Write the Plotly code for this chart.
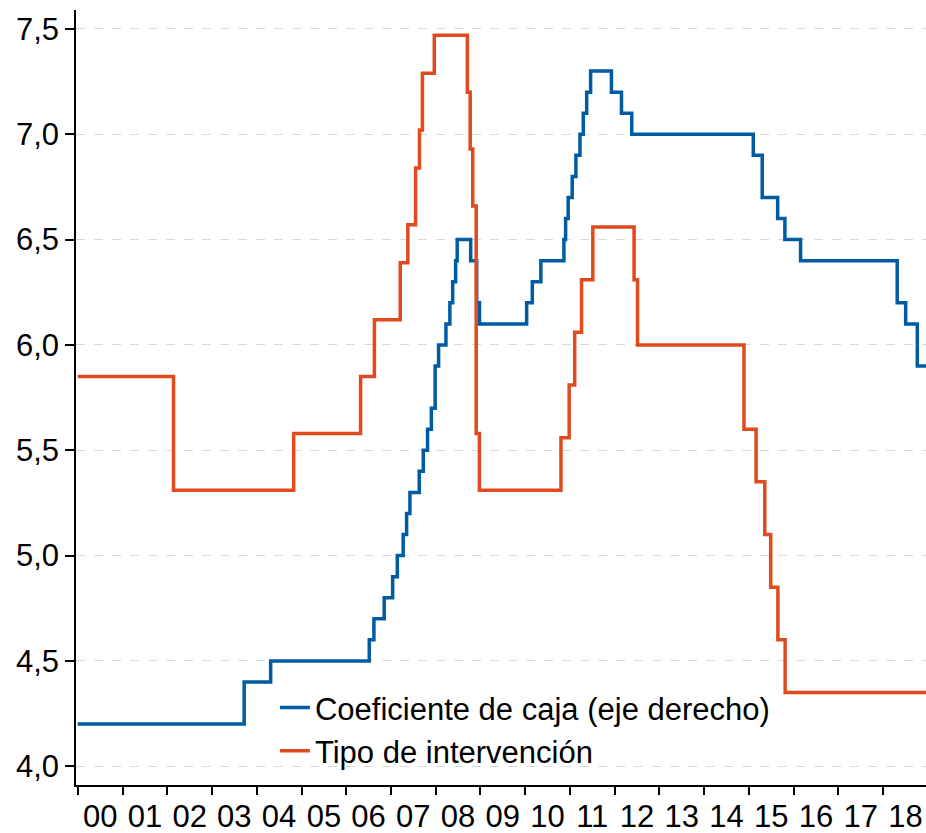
import plotly.graph_objects as go

# Coeficiente de caja: step-change dates and levels
caja_fechas = [
    "2000-01-01", "2003-09-21", "2004-04-24", "2006-07-08", "2006-08-15",
    "2006-11-07", "2007-01-15", "2007-02-22", "2007-04-11", "2007-05-09",
    "2007-06-05", "2007-08-20", "2007-09-22", "2007-10-27", "2007-11-27",
    "2007-12-28", "2008-01-25", "2008-03-25", "2008-04-26", "2008-05-19",
    "2008-06-12", "2008-06-25", "2008-10-13", "2008-12-01", "2008-12-24",
    "2010-01-13", "2010-02-28", "2010-05-09", "2010-11-13", "2010-11-27",
    "2010-12-18", "2011-01-20", "2011-02-19", "2011-03-24", "2011-04-20",
    "2011-05-18", "2011-06-19", "2011-12-06", "2012-02-26", "2012-05-20",
    "2015-02-06", "2015-04-20", "2015-08-24", "2015-10-22", "2016-02-27",
    "2018-04-26", "2018-07-04", "2018-10-07", "2018-12-31",
]
caja_valores = [
    4.2, 4.4, 4.5, 4.6, 4.7,
    4.8, 4.9, 5.0, 5.1, 5.2,
    5.3, 5.4, 5.5, 5.6, 5.7,
    5.9, 6.0, 6.1, 6.2, 6.3,
    6.4, 6.5, 6.4, 6.2, 6.1,
    6.2, 6.3, 6.4, 6.5, 6.6,
    6.7, 6.8, 6.9, 7.0, 7.1,
    7.2, 7.3, 7.2, 7.1, 7.0,
    6.9, 6.7, 6.6, 6.5, 6.4,
    6.2, 6.1, 5.9, 5.9,
]

# Tipo de intervención: step-change dates and levels
tipo_fechas = [
    "2000-01-01", "2002-02-21", "2004-10-29", "2006-04-28", "2006-08-19",
    "2007-03-18", "2007-05-19", "2007-07-21", "2007-08-22", "2007-09-15",
    "2007-12-21", "2008-09-16", "2008-10-09", "2008-10-30", "2008-11-27",
    "2008-12-23", "2010-10-20", "2010-12-26", "2011-02-09", "2011-04-06",
    "2011-07-07", "2012-06-08", "2012-07-06", "2014-11-22", "2015-03-01",
    "2015-05-11", "2015-06-28", "2015-08-26", "2015-10-24", "2018-12-31",
]
tipo_valores = [
    5.85, 5.31, 5.58, 5.85, 6.12,
    6.39, 6.57, 6.84, 7.02, 7.29,
    7.47, 7.20, 6.93, 6.66, 5.58,
    5.31, 5.56, 5.81, 6.06, 6.31,
    6.56, 6.31, 6.00, 5.60, 5.35,
    5.10, 4.85, 4.60, 4.35, 4.35,
]

y_ticks = [4.0, 4.5, 5.0, 5.5, 6.0, 6.5, 7.0, 7.5]

AZUL = "#005ca2"
ROJO = "#df4a1f"
FONT = "Liberation Sans, Arial, sans-serif"
FS = 31

fig = go.Figure()
fig.add_trace(go.Scatter(
    x=caja_fechas, y=caja_valores, mode="lines",
    line=dict(color=AZUL, width=3.5, shape="hv"),
    name="Coeficiente de caja (eje derecho)",
))
fig.add_trace(go.Scatter(
    x=tipo_fechas, y=tipo_valores, mode="lines",
    line=dict(color=ROJO, width=3.5, shape="hv"),
    name="Tipo de intervención",
))

fig.update_layout(
    width=926, height=833,
    margin=dict(l=76, r=0, t=10, b=48),
    paper_bgcolor="white", plot_bgcolor="white",
    separators=",.",
    font=dict(family=FONT, size=FS, color="black"),
    showlegend=True,
    legend=dict(
        x=0.234, y=0.1345, xanchor="left", yanchor="top",
        bgcolor="rgba(0,0,0,0)", borderwidth=0,
        font=dict(family=FONT, size=FS, color="black"),
        tracegroupgap=0,
    ),
)

fig.update_xaxes(
    type="date",
    range=["1999-12-18", "2018-12-17"],
    tick0="2000-01-01", dtick="M12",
    tickformat="%y", ticklabelmode="period",
    ticks="outside", ticklen=8, tickwidth=1.5, tickcolor="black",
    ticklabelstandoff=-5,
    showline=True, linecolor="black", linewidth=1.5,
    showgrid=False, zeroline=False, automargin=False,
    tickfont=dict(family=FONT, size=FS, color="black"),
)

fig.update_yaxes(
    range=[3.911, 7.59],
    tickvals=y_ticks, tickformat=".1f",
    ticks="outside", ticklen=9, tickwidth=1.5, tickcolor="black",
    showline=True, linecolor="black", linewidth=1.5,
    showgrid=True, gridcolor="#d9d9d9", gridwidth=1, griddash="dash",
    zeroline=False, automargin=False,
    tickfont=dict(family=FONT, size=FS, color="black"),
)

fig.write_html("out.html")
